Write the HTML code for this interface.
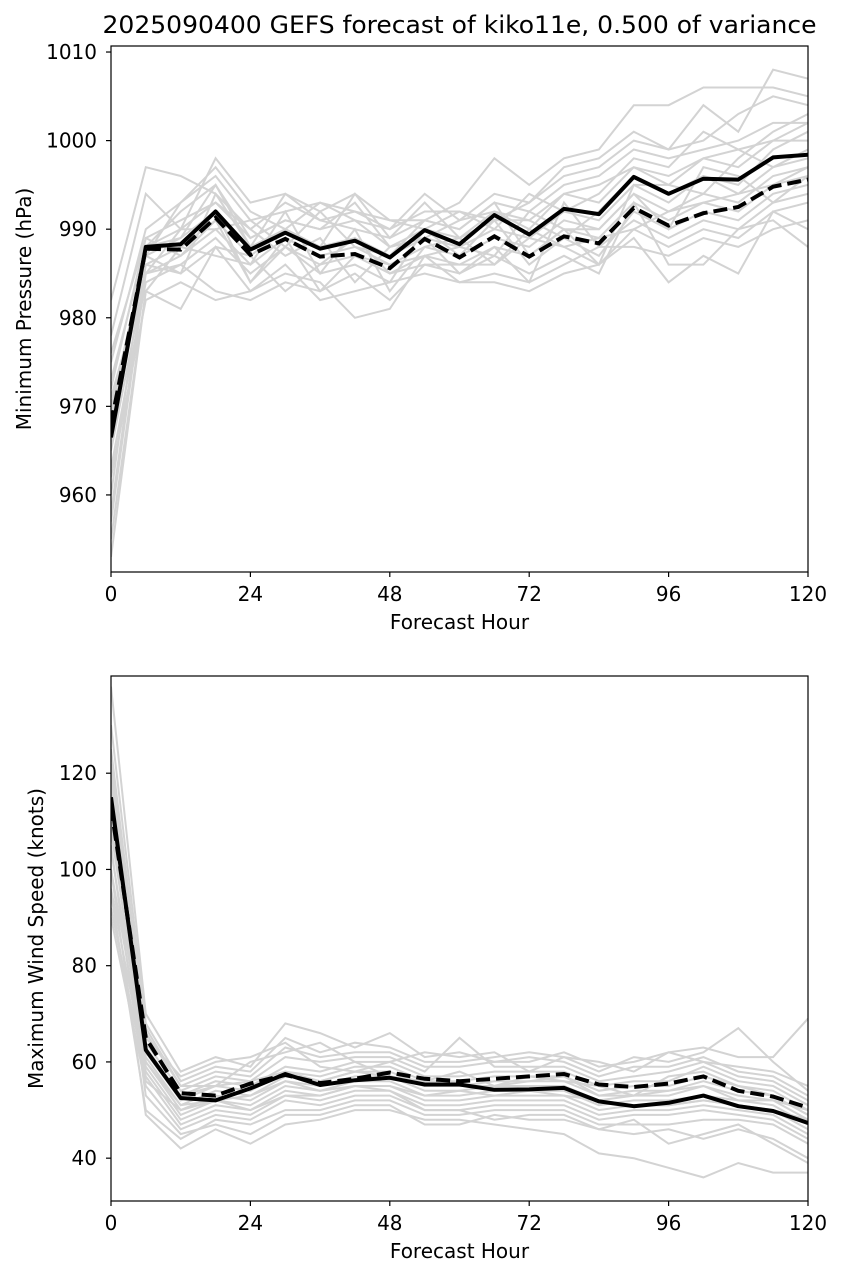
<!DOCTYPE html>
<html><head><meta charset="utf-8"><style>
body{margin:0;background:#fff;}
svg{display:block;font-family:"DejaVu Sans","Liberation Sans",sans-serif;}
</style></head><body>
<svg id="c" width="843" height="1279" viewBox="0 0 843 1279"></svg>
<script>
const hours=[0,6,12,18,24,30,36,42,48,54,60,66,72,78,84,90,96,102,108,114,120];
const xTicks=[0,24,48,72,96,120];
const presTicks=[960,970,980,990,1000,1010];
const windTicks=[40,60,80,100,120];
const presMean=[966.5,988,988.3,992,987.7,989.6,987.8,988.7,986.8,989.9,988.3,991.6,989.4,992.3,991.7,995.9,994,995.7,995.6,998.1,998.4];
const presDash=[968,987.8,987.7,991.3,987.1,988.9,986.9,987.2,985.6,988.9,986.8,989.2,986.9,989.2,988.4,992.4,990.4,991.8,992.5,994.8,995.6];
const presMembers=[
[982,997,996,994,988,990,993,991,990,992,992,991,993,996,997,1000,999,1004,1001,1008,1007],
[978,994,990,998,993,994,992,994,991,991,993,998,995,998,999,1004,1004,1006,1006,1006,1005],
[975,990,993,996,991,992,993,992,990,994,991,994,993,997,998,1001,999,1000,1003,1005,1004],
[972,989,991,993,990,993,991,990,989,991,990,993,992,995,996,999,998,999,1000,1002,1002],
[970,987,989,995,989,991,990,993,988,990,989,992,990,994,993,997,996,998,997,1000,1000],
[968,986,988,991,987,990,988,989,987,989,988,990,989,992,991,995,993,996,994,997,998],
[965,985,987,990,986,989,987,988,986,988,987,989,988,991,990,994,992,994,993,996,997],
[963,984,986,989,985,988,986,987,985,987,986,988,987,990,989,993,991,993,992,995,996],
[960,988,989,992,984,988,985,986,984,990,987,991,986,989,987,992,990,992,991,994,995],
[958,986,985,994,990,987,989,984,988,989,985,988,984,993,988,991,989,991,990,993,994],
[955,983,988,987,986,992,985,990,983,988,989,986,989,988,986,990,988,990,989,992,993],
[953,983,981,988,983,985,984,980,981,987,984,984,983,985,986,989,984,987,985,992,990],
[957,985,986,983,982,984,983,985,982,986,985,987,985,987,985,993,986,986,990,991,988],
[962,982,984,982,983,986,982,983,984,985,984,985,984,986,988,988,987,989,988,990,991],
[967,987,993,997,992,990,988,994,989,993,989,991,991,989,992,996,994,996,995,999,1001],
[973,988,992,995,988,994,991,992,991,990,992,990,994,992,994,998,997,1001,999,997,999],
[976,989,987,991,984,989,983,987,986,987,988,987,992,990,986,995,995,994,998,1001,1003],
[971,985,990,990,991,988,992,988,987,991,990,993,987,990,990,994,990,997,996,993,996],
[966,987,985,988,987,983,986,989,985,986,986,986,990,988,989,990,992,993,994,995,997],
[969,988,990,993,989,991,990,991,988,989,991,992,991,994,995,997,995,998,999,1000,1002]
];
const windMean=[115,62.5,52.5,52,54.5,57.5,55.2,56.2,56.7,55.3,55.3,54.2,54.3,54.6,51.8,50.8,51.5,53,50.8,49.8,47.3];
const windDash=[113,65,53.5,53,55.5,57.3,55.6,56.5,57.8,56.5,56,56.5,57,57.5,55.3,54.8,55.5,57,54,52.8,50.5];
const windMembers=[
[138,70,58,61,59,68,66,63,66,61,62,60,60,62,59,60,62,63,61,61,69],
[130,68,56,59,58,65,62,64,63,60,60,61,62,61,58,61,60,62,67,60,54],
[125,66,55,58,57,63,61,62,62,59,59,60,61,60,57,59,59,61,58,57,53],
[120,64,54,57,56,61,60,61,61,58,65,59,59,59,56,57,58,60,57,56,52],
[116,63,53,56,55,59,58,60,60,57,57,58,58,58,55,56,56,59,56,55,51],
[112,62,52,55,54,58,57,59,59,56,56,57,57,57,54,55,55,57,55,54,50],
[108,61,51,54,53,57,56,58,58,55,55,56,56,56,53,54,54,56,54,53,49],
[104,60,50,53,52,56,55,57,57,54,54,55,55,55,52,53,53,55,53,52,48],
[100,59,49,52,51,55,54,56,56,53,53,54,54,54,51,52,52,53,52,51,47],
[96,58,48,51,50,54,53,55,55,52,52,53,53,53,50,51,51,52,51,50,46],
[92,57,47,50,49,53,52,54,54,51,51,52,52,52,49,50,50,51,50,49,45],
[90,55,46,49,48,52,51,53,53,50,50,51,51,51,48,49,49,50,49,48,44],
[95,50,44,48,47,50,50,52,52,49,49,50,50,50,47,47,47,48,48,47,43],
[100,49,42,46,43,47,48,50,50,48,48,47,46,45,41,40,38,36,39,37,37],
[105,53,45,47,45,49,49,51,51,47,47,49,48,48,46,45,46,44,46,44,40],
[110,56,50,52,50,53,53,55,54,50,50,48,49,49,46,48,43,45,47,43,39],
[118,65,57,60,61,64,59,58,60,62,61,62,58,61,60,58,62,60,59,58,55],
[122,67,55,55,60,62,64,60,57,56,58,55,57,56,55,53,57,58,55,53,49],
[114,60,51,52,53,56,54,55,55,53,54,53,54,53,52,51,51,52,51,50,48],
[119,63,53,55,56,58,56,58,57,55,55,55,56,57,53,53,54,55,52,52,50]
];
const svg=document.getElementById('c');
const NS='http://www.w3.org/2000/svg';
function mk(tag,attrs,parent){const e=document.createElementNS(NS,tag);for(const k in attrs)e.setAttribute(k,attrs[k]);(parent||svg).appendChild(e);return e;}
const L=111,R=808;
const xs=h=>L+(h-0)/120*(R-L);
function panel(top,bot,ymin,ymax,members,mean,dash,yt,ylab,ylabX,title,pname){
  const ys=v=>bot-(v-ymin)/(ymax-ymin)*(bot-top);
  const g=mk('g',{});
  
  
  const cp='cp'+top;
  const defs=mk('defs',{},g);const clip=mk('clipPath',{id:cp},defs);mk('rect',{x:L,y:top,width:R-L,height:bot-top},clip);
  const lines=mk('g',{'clip-path':'url(#'+cp+')'},g);
  const path=a=>a.map((v,i)=>(i?'L':'M')+xs(hours[i]).toFixed(1)+' '+ys(v).toFixed(1)).join(' ');
  members.forEach((m,i)=>{
    const p=mk('path',{d:path(m),fill:'none',stroke:'#d3d3d3','stroke-width':2},lines);
    
    
  });
  const d=mk('path',{d:path(dash),fill:'none',stroke:'#000','stroke-width':4,'stroke-dasharray':'14,6'},lines);
  
  
  const s=mk('path',{d:path(mean),fill:'none',stroke:'#000','stroke-width':4,'stroke-linejoin':'round'},lines);
  
  
  const fr=mk('rect',{x:L,y:top,width:R-L,height:bot-top,fill:'none',stroke:'#000','stroke-width':1.2},g);
  
  
  xTicks.forEach(t=>{
    mk('line',{x1:xs(t),x2:xs(t),y1:bot,y2:bot+5,stroke:'#000','stroke-width':1.2},g);
    const tx=mk('text',{x:xs(t),y:bot+29,'text-anchor':'middle','font-size':20},g);tx.textContent=t;
    
    
  });
  yt.forEach(t=>{
    mk('line',{x1:L-5,x2:L,y1:ys(t),y2:ys(t),stroke:'#000','stroke-width':1.2},g);
    const tx=mk('text',{x:L-14,y:ys(t)+7,'text-anchor':'end','font-size':20},g);tx.textContent=t;
    
    
  });
  const xl=mk('text',{x:(L+R)/2,y:bot+57,'text-anchor':'middle','font-size':20},g);xl.textContent='Forecast Hour';
  
  
  const cy=(top+bot)/2;
  const yl=mk('text',{x:ylabX,y:cy,'text-anchor':'middle','font-size':20,transform:'rotate(-90 '+ylabX+' '+cy+')'},g);yl.textContent=ylab;
  
  
  if(title){const ti=mk('text',{x:(L+R)/2,y:33,'text-anchor':'middle','font-size':24,textLength:714,lengthAdjust:'spacingAndGlyphs'},g);ti.textContent=title;
    
    }
}
panel(46,572,951.3,1010.68,presMembers,presMean,presDash,presTicks,'Minimum Pressure (hPa)',31,'2025090400 GEFS forecast of kiko11e, 0.500 of variance','pressure-panel');
panel(676,1201,31.1,140.2,windMembers,windMean,windDash,windTicks,'Maximum Wind Speed (knots)',43,null,'wind-panel');
</script>
</body></html>
